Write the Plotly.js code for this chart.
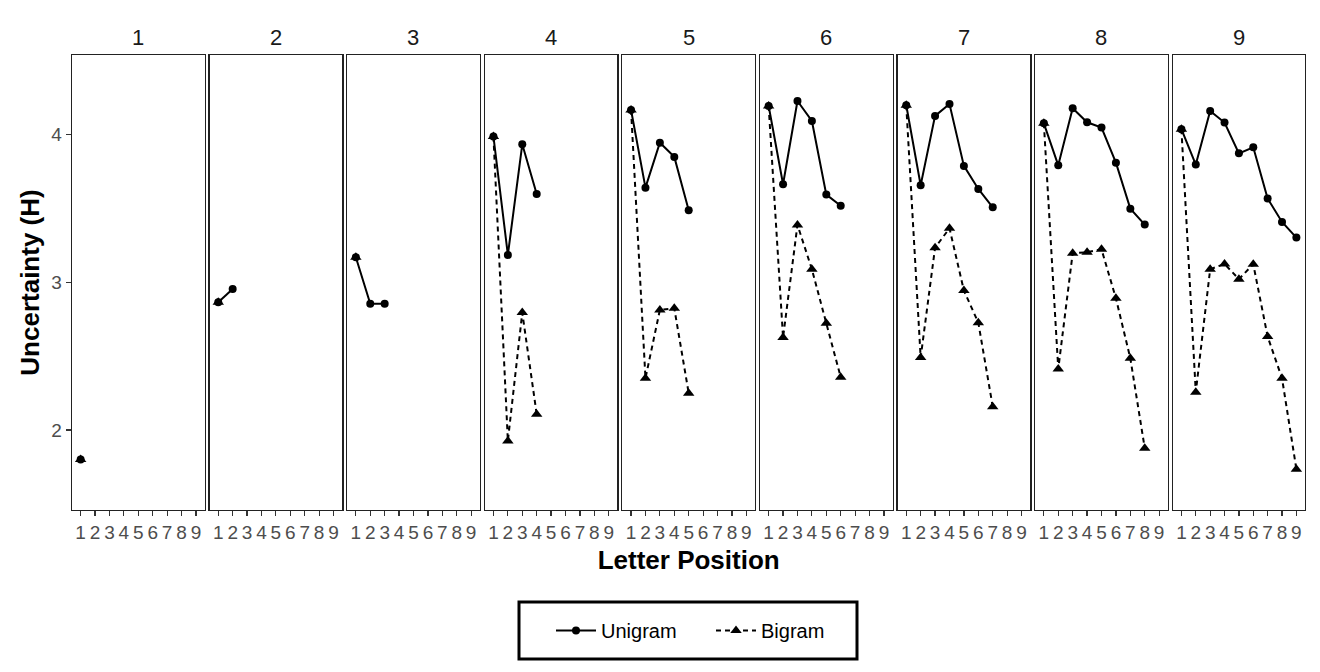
<!DOCTYPE html>
<html>
<head>
<meta charset="utf-8">
<script src="https://cdn.plot.ly/plotly-3.0.1.min.js"></script>
<style>html,body{margin:0;padding:0;background:#fff;}#chart{width:1320px;height:672px;}</style>
</head>
<body>
<div id="chart"></div>
<script>
// Word length facets
const wordLengths = [1, 2, 3, 4, 5, 6, 7, 8, 9];
// Letter positions
const positions = [1, 2, 3, 4, 5, 6, 7, 8, 9];
const positionLabels = ["1", "2", "3", "4", "5", "6", "7", "8", "9"];
// Unigram uncertainty per word length (position 1..length)
const unigram = [
  [1.80],
  [2.864, 2.954],
  [3.168, 2.853, 2.853],
  [3.984, 3.184, 3.932, 3.596],
  [4.164, 3.639, 3.943, 3.847, 3.486],
  [4.191, 3.662, 4.225, 4.090, 3.592, 3.517],
  [4.196, 3.655, 4.124, 4.205, 3.786, 3.630, 3.506],
  [4.074, 3.790, 4.176, 4.081, 4.045, 3.808, 3.497, 3.389],
  [4.034, 3.795, 4.158, 4.079, 3.871, 3.912, 3.565, 3.407, 3.301]
];
// Bigram uncertainty per word length
const bigram = [
  [1.80],
  [2.864],
  [3.168],
  [3.984, 1.926, 2.794, 2.107],
  [4.164, 2.350, 2.812, 2.823, 2.249],
  [4.191, 2.625, 3.387, 3.087, 2.722, 2.357],
  [4.196, 2.490, 3.233, 3.364, 2.943, 2.726, 2.158],
  [4.074, 2.413, 3.195, 3.202, 3.222, 2.891, 2.485, 1.877],
  [4.034, 2.256, 3.087, 3.123, 3.020, 3.121, 2.632, 2.350, 1.735]
];

const FONT = "Liberation Sans, Arial, Helvetica, sans-serif";
const W = 1320, H = 672;
const M = {l: 72, r: 15, t: 55, b: 162};
const plotW = W - M.l - M.r;
const plotH = H - M.t - M.b;
const panelW = 132.6, step = 137.6;
const px2x = p => (p - M.l) / plotW;
const px2y = p => (H - M.b - p) / plotH;

const traces = [];
const layout = {
  width: W, height: H,
  margin: M,
  paper_bgcolor: "#fff", plot_bgcolor: "#fff",
  font: {family: FONT, color: "#000"},
  showlegend: true,
  legend: {
    orientation: "h", x: px2x(551), xanchor: "left", y: px2y(630.5), yanchor: "middle",
    borderwidth: 0, bgcolor: "rgba(0,0,0,0)",
    font: {family: FONT, size: 20, color: "#000"},
    entrywidth: 105, itemwidth: 40, valign: "middle"
  },
  annotations: [],
  shapes: [{
    type: "rect", xref: "paper", yref: "paper",
    x0: px2x(519), x1: px2x(857), y0: px2y(659), y1: px2y(602),
    line: {color: "#000", width: 3}, fillcolor: "rgba(0,0,0,0)", layer: "below"
  }]
};

wordLengths.forEach((len, i) => {
  const n = i + 1;
  const xs = n === 1 ? "x" : "x" + n;
  const ys = n === 1 ? "y" : "y" + n;
  const xk = n === 1 ? "xaxis" : "xaxis" + n;
  const yk = n === 1 ? "yaxis" : "yaxis" + n;
  const d0 = (i * step) / plotW;
  const d1 = (i * step + panelW) / plotW;
  layout[xk] = {
    domain: [d0, Math.min(d1, 1)], anchor: ys,
    range: [0.4, 9.6], tickmode: "array", tickvals: positions, ticktext: positionLabels,
    ticks: "outside", ticklen: 5, tickwidth: 1.2, tickcolor: "#333",
    tickfont: {family: FONT, size: 19, color: "#4d4d4d"},
    showgrid: false, zeroline: false,
    showline: true, mirror: true, linecolor: "#222", linewidth: 1.3,
    fixedrange: true
  };
  if (n === 5) {
    layout[xk].title = {text: "<b>Letter Position</b>", font: {family: FONT, size: 26, color: "#000"}, standoff: 8};
  }
  layout[yk] = {
    domain: [0, 1], anchor: xs,
    range: [1.459, 4.536],
    tickvals: [2, 3, 4], ticktext: ["2", "3", "4"],
    showticklabels: n === 1,
    ticks: n === 1 ? "outside" : "", ticklen: 5, tickwidth: 1.2, tickcolor: "#333",
    tickfont: {family: FONT, size: 19, color: "#4d4d4d"},
    showgrid: false, zeroline: false,
    showline: true, mirror: true, linecolor: "#222", linewidth: 1.3,
    fixedrange: true
  };
  if (n === 1) {
    layout[yk].title = {text: "<b>Uncertainty (H)</b>", font: {family: FONT, size: 26, color: "#000"}, standoff: 4};
  }
  layout.annotations.push({
    text: String(len), xref: xs + " domain", yref: "paper",
    x: 0.5, y: 1, yanchor: "bottom", yshift: 3, showarrow: false,
    font: {family: FONT, size: 22, color: "#1a1a1a"}
  });
  const uy = unigram[i];
  const by = bigram[i];
  traces.push({
    type: "scatter", mode: "lines+markers", name: "Unigram",
    x: positions.slice(0, uy.length), y: uy, xaxis: xs, yaxis: ys,
    line: {color: "#000", width: 2, dash: "solid"},
    marker: {symbol: "circle", size: 8, color: "#000"},
    showlegend: i === 0, legendgroup: "uni", cliponaxis: false
  });
  traces.push({
    type: "scatter", mode: "lines+markers", name: "Bigram",
    x: positions.slice(0, by.length), y: by, xaxis: xs, yaxis: ys,
    line: {color: "#000", width: 2, dash: "5px,4px"},
    marker: {symbol: "triangle-up", size: 10, color: "#000"},
    showlegend: i === 0, legendgroup: "bi", cliponaxis: false
  });
});

Plotly.newPlot("chart", traces, layout, {displayModeBar: false, staticPlot: true});
</script>
</body>
</html>
